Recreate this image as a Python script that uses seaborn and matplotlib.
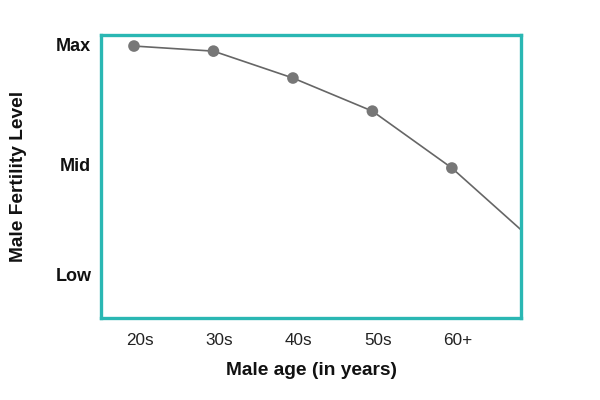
import matplotlib
matplotlib.use("Agg")
import matplotlib.pyplot as plt
import matplotlib.transforms as mtransforms
import seaborn as sns
import pandas as pd

# Data
age_labels = ["20s", "30s", "40s", "50s", "60+"]
fertility = [96.1, 94.3, 84.8, 73.1, 53.0]
trend_tail = [27.9]  # line continues past 60+ (clipped at the frame)
level_labels = ["Low", "Mid", "Max"]
level_values = [15.5, 54.1, 96.5]

sns.set_theme(style="white")
plt.rcParams['font.family'] = ['Liberation Sans', 'DejaVu Sans']

fig = plt.figure(figsize=(6, 4), dpi=100)
ax = fig.add_axes([101/600, 1-318/400, 420/600, 283/400])

line_df = pd.DataFrame({"x": list(range(len(fertility) + len(trend_tail))),
                        "y": fertility + trend_tail})
pts_df = pd.DataFrame({"x": list(range(len(fertility))), "y": fertility})

sns.lineplot(data=line_df, x="x", y="y", ax=ax, color="#666666", linewidth=1.2)
sns.scatterplot(data=pts_df, x="x", y="y", ax=ax, color="#777777", s=70,
                edgecolor="none", zorder=3)

ax.set_xlim(-0.415, 4.87)
ax.set_ylim(0, 100)
ax.set_xticks(range(len(age_labels)))
ax.set_xticklabels(age_labels, fontsize=12.3, color="#222222")
ax.set_yticks(level_values)
ax.set_yticklabels(level_labels, fontsize=13, fontweight="bold", color="#111111")
ax.tick_params(length=0, pad=11)
ax.tick_params(axis="y", pad=7)

offset = mtransforms.ScaledTranslation(6/100, 0, fig.dpi_scale_trans)
for lbl in ax.get_xticklabels():
    lbl.set_transform(lbl.get_transform() + offset)

ax.set_xlabel("Male age (in years)", fontsize=13.8, fontweight="bold", labelpad=10, color="#111111")
ax.set_ylabel("Male Fertility Level", fontsize=13.8, fontweight="bold", labelpad=20, color="#111111")

for s in ax.spines.values():
    s.set_visible(True)
    s.set_color("#2ab7b3")
    s.set_linewidth(2.4)

fig.savefig("out.png", dpi=100, facecolor="white")
